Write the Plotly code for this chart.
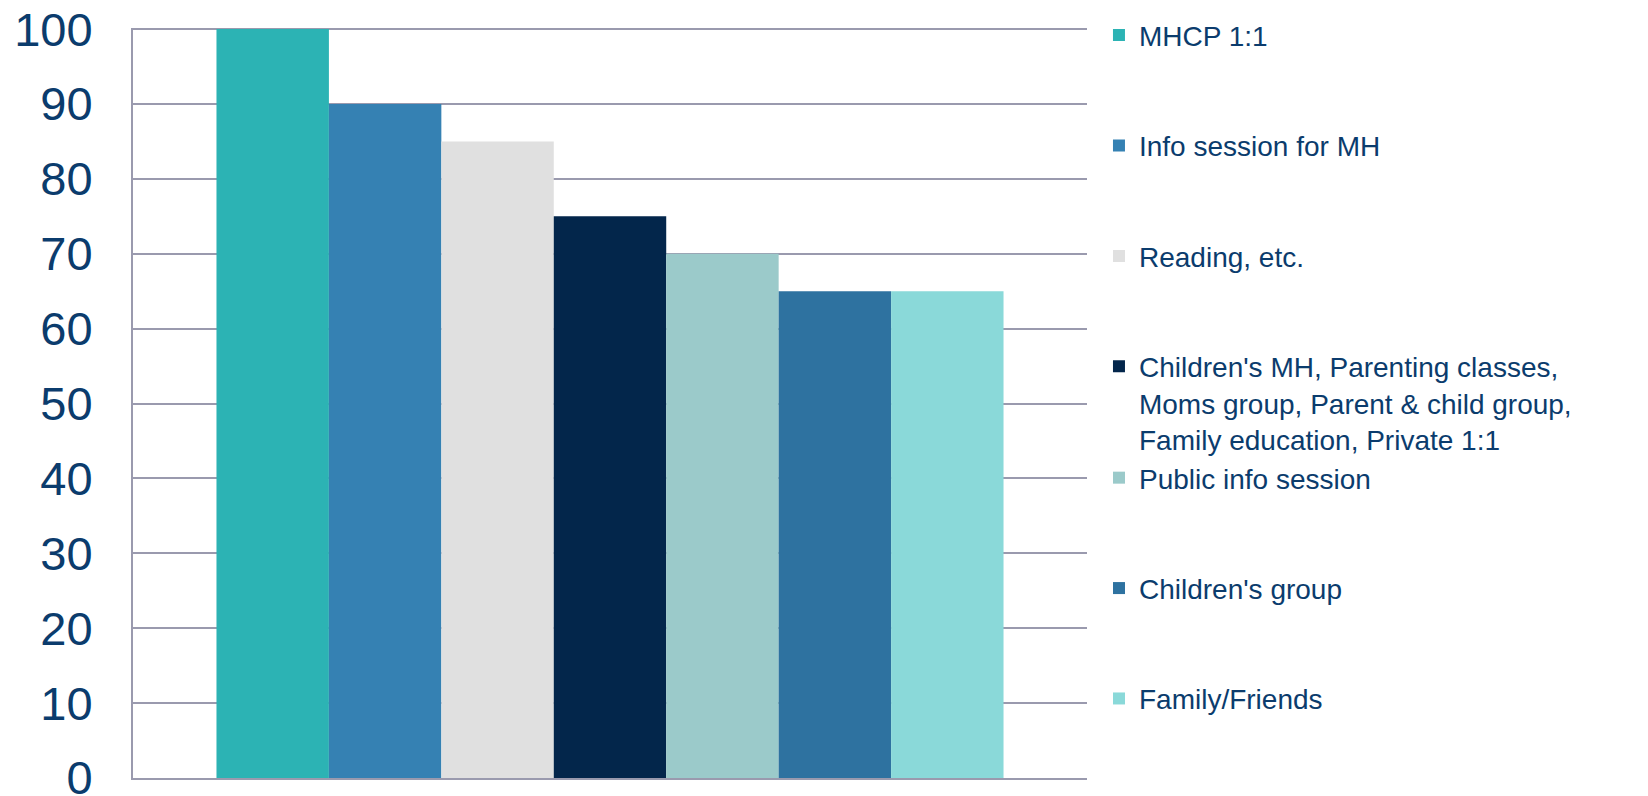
import plotly.graph_objects as go

# data
services = [
    "MHCP 1:1",
    "Info session for MH",
    "Reading, etc.",
    "Children's MH, Parenting classes,<br>Moms group, Parent & child group,<br>Family education, Private 1:1",
    "Public info session",
    "Children's group",
    "Family/Friends",
]
scores = [100, 90, 85, 75, 70, 65, 65]
bar_colors = ["#2cb3b4", "#3581b3", "#e0e0e0", "#03264b", "#9bcaca", "#2e72a0", "#8ad9d9"]
y_ticks = [0, 10, 20, 30, 40, 50, 60, 70, 80, 90, 100]

text_color = "#0b3c6d"
grid_color = "#9a9aae"

fig = go.Figure()
for i, (name, val, col) in enumerate(zip(services, scores, bar_colors)):
    fig.add_trace(go.Bar(
        x=[0], y=[val], name=name,
        marker=dict(color=col, line=dict(width=0)),
        legendgroup=f"g{i}",
        # first four entries in one legend, rest in a second so the
        # three-line entry does not push the others down
        legend="legend" if i < 4 else "legend2",
        hoverinfo="name+y",
    ))

legend_style = dict(
    font=dict(family="Liberation Sans, Arial, sans-serif", size=28, color=text_color),
    bgcolor="rgba(0,0,0,0)",
    tracegroupgap=71,
    valign="top",
    xref="container",
    yref="container",
    xanchor="left",
    yanchor="top",
    traceorder="grouped",
    maxheight=780,
)

fig.update_layout(
    width=1648,
    height=796,
    margin=dict(l=125, r=569, t=20, b=26, autoexpand=False),
    plot_bgcolor="white",
    paper_bgcolor="white",
    barmode="group",
    bargap=0.175,
    bargroupgap=0,
    showlegend=True,
    legend=dict(x=0.662, y=0.997, **legend_style),
    legend2=dict(x=0.662, y=0.441, **legend_style),
    font=dict(family="Liberation Sans, Arial, sans-serif", color=text_color),
)

fig.update_xaxes(
    range=[-0.5, 0.5],
    showticklabels=False,
    showgrid=False,
    zeroline=False,
    showline=True,
    linecolor=grid_color,
    linewidth=2,
    ticks="",
)
fig.update_yaxes(
    range=[0, 100.15],
    tickvals=y_ticks,
    tickfont=dict(size=47, color=text_color),
    ticklabelstandoff=29,
    ticklabeloverflow="allow",
    showgrid=True,
    gridcolor=grid_color,
    gridwidth=2,
    zeroline=False,
    showline=True,
    linecolor=grid_color,
    linewidth=2,
    ticks="",
)

fig.write_html("out.html")
